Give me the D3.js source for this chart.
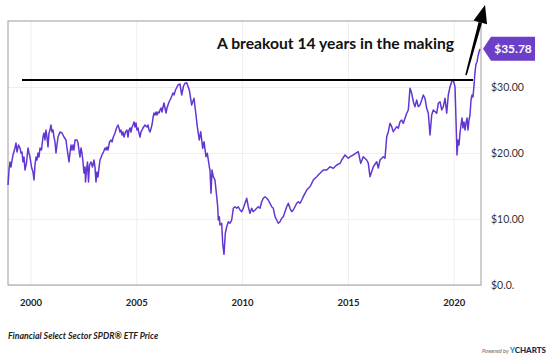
<!DOCTYPE html>
<html>
<head>
  <meta charset="utf-8">
  <title>Financial Select Sector SPDR ETF Price</title>
  <script src="https://d3js.org/d3.v7.min.js"></script>
  <style>
    body { margin: 0; background: #fff; }
    svg text { font-family: Lato, "Open Sans", sans-serif; }
  </style>
</head>
<body>
  <svg id="chart" width="558" height="360"></svg>
  <script>
    // price series (decimal year, $)
    var years = [
      1998.937, 1998.984, 1999.031, 1999.078, 1999.173, 1999.267, 1999.315, 1999.362, 1999.433, 1999.504,
      1999.551, 1999.598, 1999.646, 1999.693, 1999.740, 1999.811, 1999.882, 1999.929, 1999.976, 2000.047,
      2000.118, 2000.165, 2000.213, 2000.260, 2000.307, 2000.354, 2000.402, 2000.449, 2000.520, 2000.591,
      2000.638, 2000.685, 2000.733, 2000.780, 2000.827, 2000.874, 2000.922, 2000.969, 2001.016, 2001.063,
      2001.111, 2001.158, 2001.205, 2001.252, 2001.300, 2001.394, 2001.489, 2001.583, 2001.678, 2001.725,
      2001.772, 2001.820, 2001.867, 2001.914, 2001.961, 2002.009, 2002.056, 2002.103, 2002.198, 2002.245,
      2002.292, 2002.339, 2002.387, 2002.434, 2002.481, 2002.528, 2002.576, 2002.599, 2002.647, 2002.694,
      2002.741, 2002.788, 2002.859, 2002.930, 2003.001, 2003.048, 2003.096, 2003.143, 2003.190, 2003.237,
      2003.285, 2003.379, 2003.450, 2003.521, 2003.568, 2003.615, 2003.663, 2003.734, 2003.804, 2003.852,
      2003.899, 2003.993, 2004.064, 2004.135, 2004.182, 2004.230, 2004.277, 2004.324, 2004.372, 2004.419,
      2004.490, 2004.561, 2004.608, 2004.655, 2004.702, 2004.750, 2004.797, 2004.844, 2004.891, 2004.939,
      2004.986, 2005.033, 2005.080, 2005.128, 2005.175, 2005.222, 2005.317, 2005.411, 2005.506, 2005.553,
      2005.600, 2005.648, 2005.742, 2005.789, 2005.837, 2005.884, 2005.931, 2005.978, 2006.026, 2006.073,
      2006.120, 2006.167, 2006.215, 2006.262, 2006.309, 2006.356, 2006.404, 2006.451, 2006.545, 2006.640,
      2006.735, 2006.782, 2006.853, 2006.924, 2006.971, 2007.065, 2007.145, 2007.231, 2007.302, 2007.382,
      2007.505, 2007.618, 2007.727, 2007.821, 2007.883, 2007.977, 2008.044, 2008.138, 2008.200, 2008.294,
      2008.356, 2008.450, 2008.483, 2008.530, 2008.578, 2008.639, 2008.719, 2008.800, 2008.847, 2008.875,
      2008.923, 2008.956, 2009.036, 2009.083, 2009.145, 2009.206, 2009.273, 2009.348, 2009.428, 2009.509,
      2009.584, 2009.665, 2009.745, 2009.821, 2009.901, 2009.981, 2010.057, 2010.137, 2010.218, 2010.293,
      2010.373, 2010.454, 2010.529, 2010.610, 2010.690, 2010.766, 2010.846, 2010.926, 2011.002, 2011.082,
      2011.163, 2011.238, 2011.319, 2011.399, 2011.475, 2011.555, 2011.635, 2011.711, 2011.791, 2011.872,
      2011.947, 2012.028, 2012.108, 2012.184, 2012.264, 2012.344, 2012.420, 2012.500, 2012.580, 2012.656,
      2012.736, 2012.817, 2012.892, 2012.973, 2013.053, 2013.129, 2013.209, 2013.289, 2013.365, 2013.445,
      2013.526, 2013.601, 2013.682, 2013.838, 2013.999, 2014.155, 2014.311, 2014.471, 2014.627, 2014.708,
      2014.864, 2014.944, 2015.020, 2015.100, 2015.255, 2015.491, 2015.605, 2015.727, 2015.888, 2015.963,
      2016.044, 2016.200, 2016.361, 2016.437, 2016.517, 2016.673, 2016.754, 2016.834, 2016.910, 2016.990,
      2017.070, 2017.146, 2017.307, 2017.382, 2017.463, 2017.543, 2017.618, 2017.779, 2017.855, 2017.935,
      2018.015, 2018.091, 2018.171, 2018.251, 2018.327, 2018.407, 2018.488, 2018.563, 2018.644, 2018.724,
      2018.800, 2018.880, 2018.960, 2019.036, 2019.196, 2019.272, 2019.353, 2019.433, 2019.509, 2019.589,
      2019.669, 2019.745, 2019.825, 2019.906, 2019.981, 2020.061, 2020.109, 2020.156, 2020.203, 2020.251,
      2020.298, 2020.345, 2020.392, 2020.440, 2020.487, 2020.534, 2020.582, 2020.629, 2020.676, 2020.723,
      2020.771, 2020.818, 2020.865, 2020.912, 2020.960, 2021.007, 2021.054, 2021.101, 2021.149, 2021.196,
      2021.243
    ];
    var prices = [
      15.15, 17.42, 18.64, 17.88, 19.70, 20.76, 21.52, 20.15, 21.21, 20.76,
      20.00, 20.15, 18.64, 19.39, 17.42, 18.48, 20.76, 20.00, 19.39, 17.88,
      17.12, 15.91, 18.18, 19.39, 18.94, 20.00, 19.39, 20.76, 20.45, 22.42,
      23.03, 21.97, 23.48, 22.42, 20.91, 23.03, 23.48, 24.24, 23.18, 23.48,
      22.42, 21.67, 20.00, 21.21, 22.42, 23.18, 23.03, 22.42, 21.97, 20.76,
      19.70, 18.64, 20.00, 21.21, 20.45, 21.21, 20.45, 21.97, 21.97, 21.52,
      20.45, 19.39, 20.76, 20.00, 18.64, 16.97, 17.88, 15.61, 17.42, 18.64,
      15.61, 18.18, 18.64, 17.88, 18.94, 17.88, 15.61, 17.12, 16.36, 17.73,
      18.94, 19.70, 20.15, 20.76, 20.45, 20.91, 20.45, 21.67, 21.97, 21.67,
      22.27, 23.03, 23.79, 24.24, 23.79, 23.18, 23.48, 22.73, 23.18, 22.42,
      23.18, 23.48, 22.42, 23.48, 23.79, 23.18, 23.94, 24.24, 24.70, 23.94,
      24.55, 23.48, 23.79, 23.03, 22.42, 23.18, 23.79, 24.24, 23.94, 24.24,
      23.48, 23.18, 24.24, 25.30, 26.06, 25.76, 26.21, 25.76, 26.21, 26.06,
      26.52, 26.82, 26.21, 26.97, 27.58, 26.82, 26.06, 26.82, 27.73, 28.33,
      29.09, 28.79, 29.55, 30.00, 30.30, 30.45, 28.79, 30.15, 30.56, 30.65,
      29.55, 27.27, 28.29, 25.76, 23.99, 21.97, 23.23, 20.71, 21.71, 19.44,
      19.96, 17.92, 17.42, 13.89, 17.42, 16.41, 15.91, 13.38, 11.86, 9.85,
      10.35, 9.09, 9.35, 6.32, 4.65, 7.83, 8.83, 9.59, 9.35, 9.85,
      11.62, 11.86, 11.62, 11.86, 11.36, 11.11, 11.62, 12.38, 13.14, 11.86,
      10.86, 11.62, 11.11, 11.36, 11.62, 11.86, 11.62, 12.62, 13.14, 13.38,
      13.14, 12.88, 12.38, 11.86, 11.62, 10.35, 9.85, 9.35, 9.59, 10.11,
      10.35, 11.11, 11.86, 12.38, 11.62, 11.11, 11.36, 11.86, 12.38, 12.62,
      12.38, 12.88, 13.38, 13.89, 14.39, 14.65, 14.89, 15.41, 15.91, 16.17,
      16.41, 16.67, 16.92, 17.42, 17.42, 17.92, 17.68, 18.18, 18.44, 18.94,
      19.70, 19.44, 19.20, 19.44, 19.70, 20.20, 18.44, 19.44, 18.94, 18.48,
      16.41, 17.92, 18.68, 17.73, 18.94, 19.44, 19.20, 22.47, 23.23, 24.50,
      23.99, 23.23, 23.99, 23.74, 24.74, 25.00, 24.50, 26.02, 26.52, 29.80,
      29.05, 27.77, 27.02, 28.03, 27.02, 27.27, 28.03, 28.79, 28.29, 26.77,
      26.02, 22.73, 25.76, 26.52, 26.02, 27.53, 27.77, 26.52, 27.02, 28.29,
      26.02, 28.79, 30.05, 30.80, 31.06, 30.05, 25.00, 19.70, 21.97, 21.21,
      23.03, 24.24, 25.30, 23.79, 24.70, 23.48, 24.55, 25.30, 23.48, 25.00,
      25.76, 28.03, 28.79, 28.48, 30.30, 32.27, 33.48, 33.79, 34.70, 35.30,
      35.78
    ];

    var yearTicks = [2000, 2005, 2010, 2015, 2020];
    var priceTicks = [0, 10, 20, 30];
    var priceTickLabels = ["$0.0.", "$10.00", "$20.00", "$30.00"];

    // annotation: resistance line + breakout arrow
    var resistanceLevel = 31.06;
    var resistanceFrom = 1999.598, resistanceTo = 2020.912;
    var arrowFrom = [2020.582, 31.82], arrowTo = [2021.480, 42.42];
    var headline = "A breakout 14 years in the making";
    var lastPrice = "$35.78";
    var footer = "Financial Select Sector SPDR\u00AE ETF Price";

    var svg = d3.select("#chart");
    var plot = {left: 8, right: 481, top: 21, bottom: 285};

    var x = d3.scaleLinear().domain([1998.937, 2021.29]).range([plot.left, plot.right]);
    var y = d3.scaleLinear().domain([0, 40]).range([plot.bottom, plot.top]);

    // grid
    svg.append("g")
        .attr("transform", "translate(0," + plot.bottom + ")")
        .call(d3.axisBottom(x).tickValues(yearTicks).tickSize(-(plot.bottom - plot.top)).tickFormat(""))
        .call(g => g.select(".domain").remove())
        .selectAll("line").attr("stroke", "#efefef");
    svg.append("g")
        .attr("transform", "translate(" + plot.left + ",0)")
        .call(d3.axisLeft(y).tickValues(priceTicks).tickSize(-(plot.right - plot.left)).tickFormat(""))
        .call(g => g.select(".domain").remove())
        .selectAll("line").attr("stroke", "#efefef");

    // x labels
    var xa = svg.append("g")
        .attr("transform", "translate(0," + plot.bottom + ")")
        .call(d3.axisBottom(x).tickValues(yearTicks).tickSize(0).tickPadding(14).tickFormat(d3.format("d")));
    xa.select(".domain").remove();
    xa.selectAll("text").attr("font-size", 9.5).attr("font-weight", "bold").attr("fill", "#222")
        .style("font-family", "Lato, sans-serif");

    // y labels
    var ya = svg.append("g")
        .attr("transform", "translate(" + plot.right + ",0)")
        .call(d3.axisRight(y).tickValues(priceTicks).tickSize(0).tickPadding(10)
          .tickFormat((d, i) => priceTickLabels[i]));
    ya.select(".domain").remove();
    ya.selectAll("text").attr("font-size", 10.5).attr("fill", "#333")
        .style("font-family", "Lato, sans-serif");

    // frame
    svg.append("rect")
        .attr("x", plot.left).attr("y", plot.top)
        .attr("width", plot.right - plot.left).attr("height", plot.bottom - plot.top)
        .attr("fill", "none").attr("stroke", "#9c9c9c").attr("stroke-width", 1);

    // price line
    var line = d3.line().x((d, i) => x(years[i])).y(d => y(d));
    svg.append("path")
        .datum(prices)
        .attr("d", line)
        .attr("fill", "none")
        .attr("stroke", "#6236d2")
        .attr("stroke-width", 1.5)
        .attr("stroke-linejoin", "round");

    // resistance line
    svg.append("line")
        .attr("x1", x(resistanceFrom)).attr("x2", x(resistanceTo))
        .attr("y1", y(resistanceLevel)).attr("y2", y(resistanceLevel))
        .attr("stroke", "#000").attr("stroke-width", 2);

    // arrow
    var ax0 = x(arrowFrom[0]), ay0 = y(arrowFrom[1]), ax1 = x(arrowTo[0]), ay1 = y(arrowTo[1]);
    var len = Math.hypot(ax1 - ax0, ay1 - ay0), ux = (ax1 - ax0) / len, uy = (ay1 - ay0) / len;
    var headLen = 18, headHalf = 7;
    var bx = ax1 - ux * headLen, by = ay1 - uy * headLen;
    // tapered shaft
    var w0 = 0.8, w1 = 1.8;
    svg.append("path")
        .attr("d", "M" + (ax0 - uy * w0) + "," + (ay0 + ux * w0) +
                   "L" + (bx - uy * w1) + "," + (by + ux * w1) +
                   "L" + (bx + uy * w1) + "," + (by - ux * w1) +
                   "L" + (ax0 + uy * w0) + "," + (ay0 - ux * w0) + "Z")
        .attr("fill", "#000");
    svg.append("path")
        .attr("d", "M" + ax1 + "," + ay1 +
                   "L" + (bx - uy * headHalf) + "," + (by + ux * headHalf) +
                   "L" + (bx + uy * headHalf) + "," + (by - ux * headHalf) + "Z")
        .attr("fill", "#000");

    // headline
    svg.append("text")
        .attr("x", 217).attr("y", 48.5)
        .attr("font-size", 16).attr("font-weight", "bold").attr("fill", "#111")
        .attr("textLength", 237).attr("lengthAdjust", "spacingAndGlyphs")
        .text(headline);

    // last price tag
    var ty = y(prices[prices.length - 1]);
    var tag = svg.append("g").attr("transform", "translate(483," + ty + ")");
    tag.append("path")
        .attr("d", "M0,0L8,-12L52,-12L52,12L8,12Z")
        .attr("fill", "#6b3fc8");
    tag.append("text")
        .attr("x", 30).attr("y", 0).attr("dy", "0.36em")
        .attr("text-anchor", "middle")
        .attr("font-size", 12).attr("font-weight", "bold").attr("fill", "#fff")
        .text(lastPrice);

    // footer
    svg.append("text")
        .attr("x", 8).attr("y", 339)
        .attr("font-size", 8.8).attr("font-weight", "bold").attr("font-style", "italic")
        .attr("fill", "#222")
        .text(footer);

    var pw = svg.append("text")
        .attr("x", 546).attr("y", 353)
        .attr("text-anchor", "end");
    pw.append("tspan").attr("font-size", 5.5).attr("font-style", "italic").attr("fill", "#666").text("Powered by ");
    pw.append("tspan").attr("font-size", 8).attr("font-weight", "900").attr("fill", "#1e8fe0").text("Y");
    pw.append("tspan").attr("font-size", 8).attr("font-weight", "900").attr("fill", "#1d2b4f").text("CHARTS");
  </script>
</body>
</html>
